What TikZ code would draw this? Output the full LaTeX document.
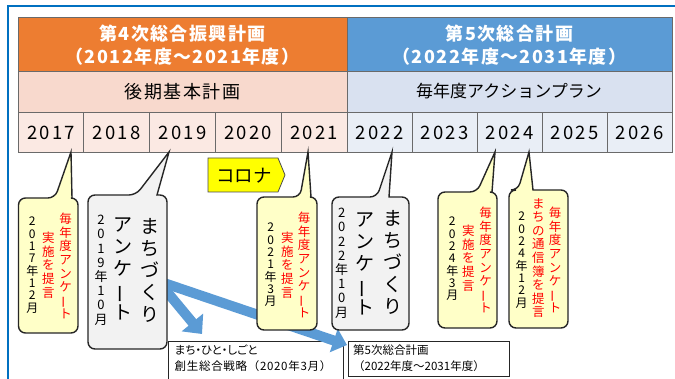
\documentclass[tikz,border=0pt]{standalone}
\usepackage{fontspec}
\usetikzlibrary{arrows.meta}
\setmainfont{Noto Sans CJK JP}
\newfontfamily\jpn{Noto Sans CJK JP}
\newfontfamily\jpp[RawFeature=+palt]{Noto Sans CJK JP}
\newfontfamily\jpwide[LetterSpace=6]{Noto Sans CJK JP}
\newfontfamily\jphead[LetterSpace=8]{Noto Sans CJK JP}
\newfontfamily\jpyear[LetterSpace=12]{Noto Sans CJK JP}
\newcommand\vbar{\rotatebox[origin=c]{90}{\jpn ー}}
\definecolor{hdrorange}{HTML}{ED7D31}
\definecolor{hdrblue}{HTML}{5B9BD5}
\definecolor{rowpink}{HTML}{F8D9CD}
\definecolor{rowblue}{HTML}{D9E1F0}
\definecolor{yrpink}{HTML}{FBE9E3}
\definecolor{yrblue}{HTML}{E9EEF6}
\definecolor{frameblue}{HTML}{0070C0}
\definecolor{tline}{HTML}{6A6A6A}
\definecolor{cyellow}{HTML}{FFFFC8}
\definecolor{cgray}{HTML}{F2F2F2}
\definecolor{arrowblue}{HTML}{5B9BD5}
\definecolor{corona}{HTML}{FFFF00}
\definecolor{redtxt}{HTML}{FF0000}
\newcommand\mycallout[8]{%
  \filldraw[callbox, fill=#1] (#2,{(#3+#5)/2}) [rounded corners=7pt] -- (#2,#3) -- (#6,#3)
    [sharp corners] -- (#8,152) -- (#7,#3) [rounded corners=7pt] -- (#4,#3) -- (#4,#5) -- (#2,#5) -- cycle;}
\begin{document}
\begin{tikzpicture}[x=1pt,y=-1pt,
  cellbox/.style={draw=tline, line width=0.8pt},
  hdr/.style={text=white, font=\jphead\bfseries\fontsize{18}{20}\selectfont, inner sep=0},
  rowtxt/.style={text=black, font=\jphead\fontsize{18}{20}\selectfont, inner sep=0},
  yeartxt/.style={text=black, font=\jpyear\fontsize{18.5}{20}\selectfont, inner sep=0},
  callbox/.style={draw=black!85, line width=1.4pt},
  vcol/.style={anchor=north, inner sep=0, align=center},
  redcol/.style={vcol, text=redtxt, font=\fontsize{12.5}{13.6}\selectfont},
  blkcol/.style={vcol, text=black, font=\fontsize{12}{12.3}\selectfont},
  bigcol/.style={vcol, text=black, font=\fontsize{19}{22}\selectfont},
  datecol/.style={vcol, text=black, font=\fontsize{13}{14.2}\selectfont},
  notebox/.style={draw=black!85, line width=1pt, fill=white},
  notetxt/.style={anchor=north west, inner sep=0, align=left, font=\fontsize{11.5}{16}\selectfont},
  bluearrow/.style={draw=arrowblue, line width=10pt},
]
\useasboundingbox (0,0) rectangle (675,379);
\fill[white] (0,0) rectangle (675,379);
% frame
\draw[frameblue, line width=2pt] (8,380) -- (8,6) -- (676,6);
% header
\filldraw[cellbox, fill=hdrorange] (18,17) rectangle (347,71);
\filldraw[cellbox, fill=hdrblue] (347,17) rectangle (672,71);
\filldraw[cellbox, fill=rowpink] (18,71) rectangle (347,112);
\filldraw[cellbox, fill=rowblue] (347,71) rectangle (672,112);
\node[hdr] (h4a) at (182.5,33.5) {第4次総合振興計画};
\node[hdr] (h4b) at (182.5,57) {（2012年度〜2021年度）};
\node[hdr] (h5a) at (509.5,33.5) {第5次総合計画};
\node[hdr] (h5b) at (509.5,57) {（2022年度〜2031年度）};
\node[rowtxt] (r4) at (182.5,92) {後期基本計画};
\node[inner sep=0, font=\jpn\fontsize{17}{20}\selectfont] (r5) at (509,91.5) {毎年度アクションプラン};
% years
\foreach \y [count=\i from 0] in {2017,2018,2019,2020,2021} {
  \filldraw[cellbox, fill=yrpink] ({18+65.8*\i},112) rectangle ({18+65.8*(\i+1)},152);
  \node[yeartxt] (y\y) at ({18+65.8*(\i+0.5)},132.5) {\y};
}
\foreach \y [count=\i from 0] in {2022,2023,2024,2025,2026} {
  \filldraw[cellbox, fill=yrblue] ({347+65*\i},112) rectangle ({347+65*(\i+1)},152);
  \node[yeartxt] (y\y) at ({347+65*(\i+0.5)},132.5) {\y};
}
% corona
\filldraw[draw=black!70, line width=0.8pt, fill=corona] (208,158) -- (278,158) -- (285,175) -- (278,192) -- (208,192) -- cycle;
\node[inner sep=0, font=\fontsize{18.5}{20}\selectfont] (corona) at (244,175.5) {コロナ};
% note boxes
\draw[notebox] (168,342) rectangle (343,385);
\node[notetxt] (n1) at (174.5,344.5) {{\jpp まち・ひと・しごと}\\{\jpwide 創生総合戦略（2020年3月）}};
\draw[notebox] (348,342) rectangle (509,377);
\node[notetxt] (n2) at (353,344.5) {第5次総合計画\\（2022年度〜2031年度）};
% blue arrows
\coordinate (as) at (158,281);
\coordinate (a1) at (202,334);
\coordinate (a2) at (347,345);
\draw[bluearrow, -{Triangle[width=27pt,length=15pt]}] (as) -- (a1);
\draw[bluearrow, -{Triangle[width=24pt,length=14pt]}] (as) -- (a2);
% callouts
\mycallout{cyellow}{18.5}{198}{78}{333}{55}{72}{71}
\node[redcol] (c17a) at (65.5,213) {毎\\年\\度\\ア\\ン\\ケ\\\vbar\\ト};
\node[redcol] (c17b) at (48.3,232) {実\\施\\を\\提\\言};
\node[blkcol] (c17c) at (32.3,217) {2\\0\\1\\7\\年\\1\\2\\月};
\mycallout{cgray}{88}{195}{167}{349}{136}{157}{169}
\node[bigcol] (c19a) at (150,218) {ま\\ち\\づ\\く\\り};
\node[bigcol] (c19b) at (123,218) {ア\\ン\\ケ\\\vbar\\ト};
\node[datecol] (c19c) at (101,215) {2\\0\\1\\9\\年\\1\\0\\月};
\mycallout{cyellow}{257}{197}{317}{330}{300}{311}{308}
\node[redcol] (c21a) at (304,212) {毎\\年\\度\\ア\\ン\\ケ\\\vbar\\ト};
\node[redcol] (c21b) at (287.3,232) {実\\施\\を\\提\\言};
\node[blkcol] (c21c) at (270.7,223) {2\\0\\2\\1\\年\\3\\月};
\mycallout{cgray}{332}{197}{409}{330}{377}{389}{392}
\node[bigcol] (c22a) at (392.7,210) {ま\\ち\\づ\\く\\り};
\node[bigcol] (c22b) at (365,213) {ア\\ン\\ケ\\\vbar\\ト};
\node[datecol] (c22c) at (341.7,208) {2\\0\\2\\2\\年\\1\\0\\月};
\mycallout{cyellow}{438}{192}{497}{328}{477}{492}{495}
\node[redcol] (c24a) at (485.7,207) {毎\\年\\度\\ア\\ン\\ケ\\\vbar\\ト};
\node[redcol] (c24b) at (468.3,225) {実\\施\\を\\提\\言};
\node[blkcol] (c24c) at (452.3,217) {2\\0\\2\\4\\年\\3\\月};
\mycallout{cyellow}{509}{190}{568}{328}{518}{533}{529}
\node[redcol] (c24d) at (555,207) {毎\\年\\度\\ア\\ン\\ケ\\\vbar\\ト};
\node[redcol] (c24e) at (538.3,198) {ま\\ち\\の\\通\\信\\簿\\を\\提\\言};
\node[blkcol] (c24f) at (521.7,212) {2\\0\\2\\4\\年\\1\\2\\月};
\end{tikzpicture}
\end{document}
